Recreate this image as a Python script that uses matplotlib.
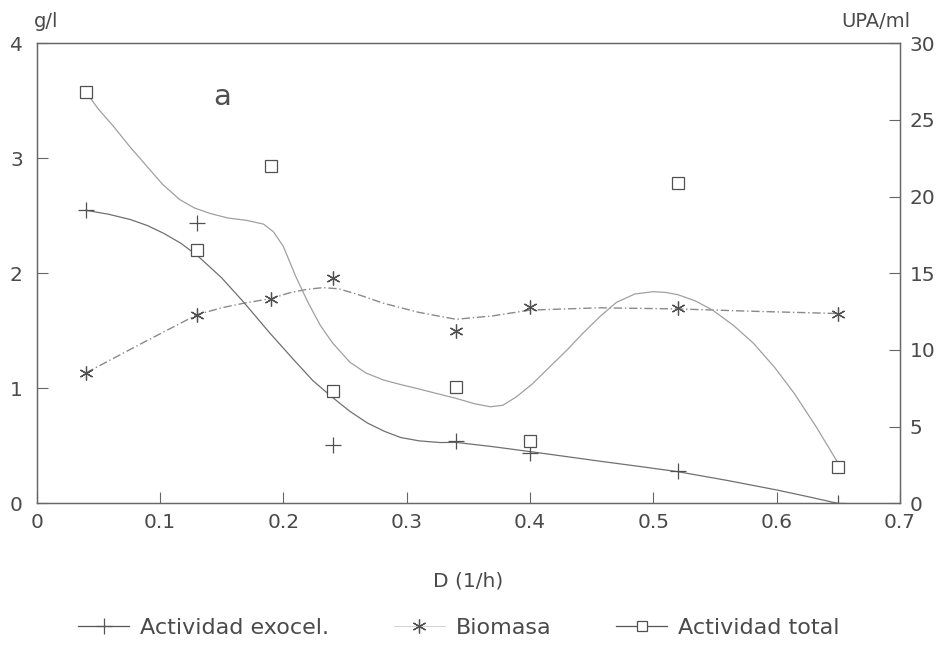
import numpy as np
import matplotlib.pyplot as plt

plt.rcParams['font.family'] = ['DejaVu Sans']

# ---- measured points ----
D = [0.04, 0.13, 0.19, 0.24, 0.34, 0.40, 0.52, 0.65]
D_exo = [0.04, 0.13, 0.24, 0.34, 0.40, 0.52, 0.65]
act_exocel = [19.1, 18.3, 3.8, 4.1, 3.3, 2.1, 0.0]          # UPA/ml
biomasa = [1.135, 1.64, 1.78, 1.96, 1.50, 1.71, 1.70, 1.65]  # g/l
act_total = [26.8, 16.5, 22.0, 7.3, 7.6, 4.1, 20.9, 2.4]    # UPA/ml

# ---- fitted curves ----
exo_cx = [0.04, 0.058, 0.076, 0.09, 0.103, 0.117, 0.131, 0.15, 0.168, 0.188,
          0.208, 0.224, 0.24, 0.254, 0.268, 0.282, 0.295, 0.31, 0.327, 0.34,
          0.37, 0.40, 0.43, 0.457, 0.49, 0.52, 0.56, 0.60, 0.625, 0.65]
exo_cy = [19.1, 18.85, 18.5, 18.1, 17.6, 16.95, 16.1, 14.7, 13.1, 11.2,
          9.4, 8.0, 6.9, 6.0, 5.25, 4.7, 4.3, 4.08, 3.97, 3.98,
          3.7, 3.38, 3.05, 2.75, 2.4, 2.07, 1.5, 0.88, 0.45, 0.0]

bio_cx = [0.04, 0.085, 0.13, 0.15, 0.168, 0.19, 0.205, 0.219, 0.232, 0.245,
          0.262, 0.281, 0.31, 0.34, 0.37, 0.40, 0.457, 0.52, 0.58, 0.65]
bio_cy = [1.135, 1.39, 1.64, 1.70, 1.74, 1.78, 1.83, 1.86, 1.875, 1.865,
          1.81, 1.74, 1.66, 1.60, 1.63, 1.68, 1.70, 1.69, 1.67, 1.65]

tot_cx = [0.04, 0.05, 0.062, 0.075, 0.089, 0.102, 0.116, 0.128, 0.1405, 0.155,
          0.17, 0.184, 0.192, 0.2, 0.21, 0.22, 0.23, 0.24, 0.254, 0.267,
          0.281, 0.295, 0.308, 0.325, 0.34, 0.355, 0.368, 0.378, 0.389, 0.402,
          0.416, 0.43, 0.443, 0.457, 0.47, 0.485, 0.50, 0.51, 0.52, 0.534,
          0.548, 0.565, 0.581, 0.598, 0.614, 0.632, 0.65]
tot_cy = [26.8, 25.7, 24.6, 23.3, 22.0, 20.8, 19.8, 19.25, 18.9, 18.6,
          18.45, 18.2, 17.7, 16.75, 14.8, 13.1, 11.6, 10.45, 9.2, 8.5,
          8.05, 7.75, 7.5, 7.15, 6.85, 6.5, 6.3, 6.4, 6.95, 7.8,
          8.9, 10.0, 11.1, 12.2, 13.1, 13.65, 13.8, 13.75, 13.6, 13.2,
          12.6, 11.6, 10.45, 8.9, 7.2, 5.0, 2.6]

txt = '#4a4a4a'
fig = plt.figure(figsize=(9.5, 6.59), dpi=100)
ax = fig.add_axes([0.0386, 0.236, 0.9088, 0.6987])
ax2 = ax.twinx()

ax.plot(bio_cx, bio_cy, color='#8a8a8a', lw=1.0, ls=(0, (6, 2, 1, 2)))
ax.plot(D, biomasa, ls='none', marker=(6, 2, 0), ms=10, mew=0.9, color='#505050')

ax2.plot(exo_cx, exo_cy, color='#707070', lw=0.9)
ax2.plot(D_exo, act_exocel, ls='none', marker='+', ms=11, mew=0.9, color='#505050')
ax2.plot(tot_cx, tot_cy, color='#a0a0a0', lw=0.9)
ax2.plot(D, act_total, ls='none', marker='s', ms=9, mew=0.9, mfc='white',
         mec='#505050')

ax.set_xlim(0, 0.7)
ax.set_ylim(0, 4)
ax2.set_ylim(0, 30)
ax.set_xticks(np.arange(0, 0.71, 0.1))
ax.set_xticklabels(['0', '0.1', '0.2', '0.3', '0.4', '0.5', '0.6', '0.7'])
ax.set_yticks([0, 1, 2, 3, 4])
ax2.set_yticks([0, 5, 10, 15, 20, 25, 30])

for a in (ax, ax2):
    a.tick_params(direction='in', length=8, width=0.8, colors='#666666',
                  labelcolor=txt, labelsize=14.5, pad=7)
    for s in a.spines.values():
        s.set_color('#666666')
        s.set_linewidth(0.9)
ax.tick_params(axis='y', pad=10)
ax2.tick_params(axis='y', pad=7)

ax.set_xlabel('D (1/h)', fontsize=14.5, color=txt, labelpad=28)
fig.text(0.036, 0.968, 'g/l', fontsize=14, color=txt, ha='left', va='center')
fig.text(0.958, 0.968, 'UPA/ml', fontsize=14, color=txt, ha='right', va='center')
ax.text(0.143, 3.535, 'a', fontsize=21, color='#505050', va='center')

h1, = ax.plot([], [], color='#555555', lw=0.9, marker='+', ms=12, mew=0.9)
h2, = ax.plot([], [], color='#cccccc', lw=0.6, marker=(6, 2, 0), ms=10, mew=0.9,
              mec='#505050')
h3, = ax.plot([], [], color='#555555', lw=0.9, marker='s', ms=7, mew=0.9,
              mfc='white', mec='#505050')
fig.legend([h1, h2, h3], ['Actividad exocel.', 'Biomasa', 'Actividad total'],
           loc='center', bbox_to_anchor=(0.483, 0.047), ncol=3, frameon=False,
           fontsize=16, labelcolor=txt, handlelength=2.3, handletextpad=0.5,
           columnspacing=2.9)

fig.savefig('out.png', dpi=100)
